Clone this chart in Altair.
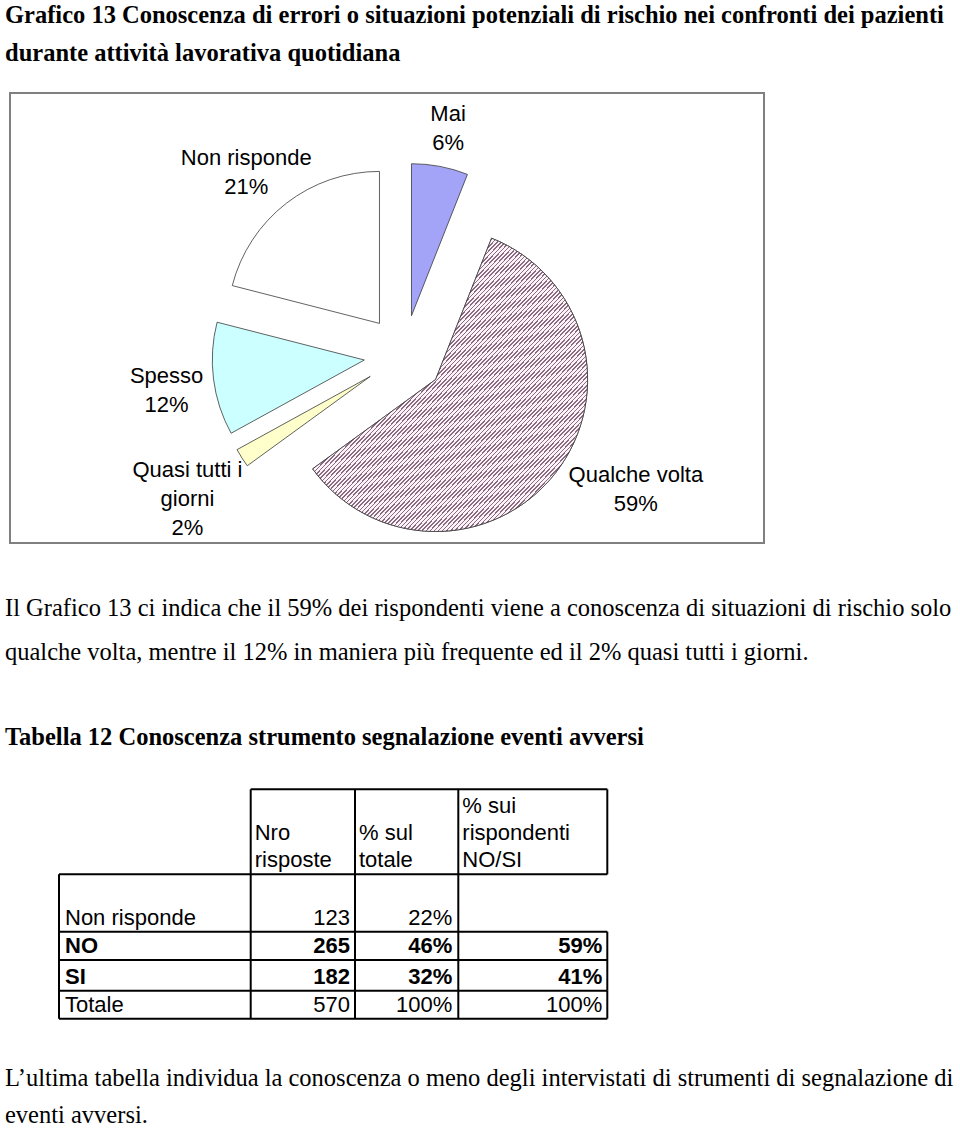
import altair as alt
import pandas as pd

# ---------------- data ----------------
categories = ["Mai", "Qualche volta", "Quasi tutti i giorni", "Spesso", "Non risponde"]
shares = [6, 59, 2, 12, 21]
label_lines = [["Mai", "6%"], ["Qualche volta", "59%"], ["Quasi tutti i", "giorni", "2%"],
               ["Spesso", "12%"], ["Non risponde", "21%"]]

row_names = ["Non risponde", "NO", "SI", "Totale"]
nro_risposte = [123, 265, 182, 570]
pct_totale = ["22%", "46%", "32%", "100%"]
pct_rispondenti = ["", "59%", "41%", "100%"]
bold_rows = [False, True, True, False]
header_lines = [["Nro", "risposte"], ["% sul", "totale"], ["% sui", "rispondenti", "NO/SI"]]

doc_lines = [
    ("Grafico 13 Conoscenza di errori o situazioni potenziali di rischio nei confronti dei pazienti", "bold"),
    ("durante attività lavorativa quotidiana", "bold"),
    ("Il Grafico 13 ci indica che il 59% dei rispondenti viene a conoscenza di situazioni di rischio solo", "normal"),
    ("qualche volta, mentre il 12% in maniera più frequente ed il 2% quasi tutti i giorni.", "normal"),
    ("Tabella 12 Conoscenza strumento segnalazione eventi avversi", "bold"),
    ("L’ultima tabella individua la conoscenza o meno degli intervistati di strumenti di segnalazione di", "normal"),
    ("eventi avversi.", "normal"),
]

# ---------------- layout / style ----------------
W, H = 960, 1130
SERIF = "Liberation Serif"
SANS = "Liberation Sans"
DOC_BASELINES = [23, 61, 616, 660, 745, 1086, 1123]
DOC_SIZE = 24.5

CX, CY, RADIUS, EXPLODE = 404, 355, 152, 40
LABEL_LAYOUT = {"Mai": (0.2, 231), "Qualche volta": (-7.7, 268), "Quasi tutti i giorni": (-1.2, 260),
                "Spesso": (-1.2, 240), "Non risponde": (-3.1, 241)}
LABEL_LH = 29
slice_colors = ["#A3A3F7", "#E2D2DC", "#FFFFCC", "#CCFFFF", "#FFFFFF"]

COL_X = [59, 250.7, 355, 458.3, 607.3]
ROW_Y = [789.3, 874.3, 931.7, 960, 990.7, 1018.7]
TAB_SIZE = 22

# hatch gradient for "Qualche volta"
N_STRIPES = 135
DARK, LIGHT = "#8A6C82", "#FCF2F8"
stops = []
for i in range(N_STRIPES):
    a = i / N_STRIPES
    b = (i + 0.38) / N_STRIPES
    c = (i + 1) / N_STRIPES
    stops += [alt.GradientStop(offset=a, color=DARK), alt.GradientStop(offset=b, color=DARK),
              alt.GradientStop(offset=b, color=LIGHT), alt.GradientStop(offset=c, color=LIGHT)]
hatch = alt.LinearGradient(gradient="linear", stops=stops, x1=0, y1=0, x2=1, y2=1)

PX = dict(scale=None, axis=None)

# ---------------- pie ----------------
pie_df = pd.DataFrame({
    "cat": categories,
    "share": shares,
    "order": list(range(len(categories))),
    "lines": label_lines,
    "k": [list(range(len(l))) for l in label_lines],
    "n": [len(l) for l in label_lines],
    "ldelta": [LABEL_LAYOUT[c][0] for c in categories],
    "lrad": [LABEL_LAYOUT[c][1] for c in categories],
})

pie_base = (
    alt.Chart(pie_df)
    .transform_window(cum="sum(share)", sort=[alt.SortField("order")], frame=[None, 0])
    .transform_calculate(t1="datum.cum / 100 * 2 * PI", t0="(datum.cum - datum.share) / 100 * 2 * PI")
    .transform_calculate(mid="(datum.t0 + datum.t1) / 2")
    .transform_calculate(cx=f"{CX} + {EXPLODE} * sin(datum.mid)", cy=f"{CY} - {EXPLODE} * cos(datum.mid)")
)

arc_enc = dict(
    theta=alt.Theta("t0:Q", scale=None, stack=None),
    theta2=alt.Theta2("t1:Q"),
    x=alt.X("cx:Q", **PX),
    y=alt.Y("cy:Q", **PX),
)

arcs = pie_base.mark_arc(radius=RADIUS, stroke="#3A3A3A", strokeWidth=0.8).encode(
    fill=alt.Fill("cat:N", scale=alt.Scale(domain=categories, range=slice_colors), legend=None),
    **arc_enc,
)
hatched = pie_base.transform_filter("datum.cat == 'Qualche volta'").mark_arc(
    radius=RADIUS, fill=hatch, stroke="#3A3A3A", strokeWidth=0.8
).encode(**arc_enc)

labels = (
    pie_base.transform_flatten(["lines", "k"])
    .transform_calculate(la="datum.mid + datum.ldelta * PI / 180")
    .transform_calculate(
        lx=f"{CX} + datum.lrad * sin(datum.la)",
        ly=f"{CY} - datum.lrad * cos(datum.la) + (datum.k - (datum.n - 1) / 2) * {LABEL_LH}",
    )
    .mark_text(font=SANS, fontSize=TAB_SIZE, align="center", baseline="middle", color="#000000")
    .encode(x=alt.X("lx:Q", **PX), y=alt.Y("ly:Q", **PX), text="lines:N")
)

one = pd.DataFrame({"a": [0]})
frame = alt.Chart(one).mark_rect(fill=None, stroke="#808080", strokeWidth=2).encode(
    x=alt.value(10), x2=alt.value(764), y=alt.value(93), y2=alt.value(543)
)

# ---------------- document text ----------------
doc_layers = []
for (txt, weight), yb in zip(doc_lines, DOC_BASELINES):
    doc_layers.append(
        alt.Chart(one).mark_text(font=SERIF, fontSize=DOC_SIZE, fontWeight=weight, align="left",
                                 baseline="alphabetic", color="#000000", text=txt)
        .encode(x=alt.value(5), y=alt.value(yb))
    )

# ---------------- table ----------------
segs = []
segs.append({"x1": COL_X[1], "x2": COL_X[-1], "y1": ROW_Y[0], "y2": ROW_Y[0]})
for y in ROW_Y[1:]:
    segs.append({"x1": COL_X[0], "x2": COL_X[-1], "y1": y, "y2": y})
segs.append({"x1": COL_X[0], "x2": COL_X[0], "y1": ROW_Y[1], "y2": ROW_Y[-1]})
for x in COL_X[1:-1]:
    segs.append({"x1": x, "x2": x, "y1": ROW_Y[0], "y2": ROW_Y[-1]})
segs.append({"x1": COL_X[-1], "x2": COL_X[-1], "y1": ROW_Y[0], "y2": ROW_Y[1]})
for i, v in enumerate(pct_rispondenti):
    if v != "":
        segs.append({"x1": COL_X[-1], "x2": COL_X[-1], "y1": ROW_Y[i + 1], "y2": ROW_Y[i + 2]})
grid = alt.Chart(pd.DataFrame(segs)).mark_rule(color="#000000", strokeWidth=2).encode(
    x=alt.X("x1:Q", **PX), x2="x2:Q", y=alt.Y("y1:Q", **PX), y2="y2:Q"
)

cells = []
for i, name in enumerate(row_names):
    yb = ROW_Y[i + 2] - 7
    w = "bold" if bold_rows[i] else "normal"
    cells.append({"t": name, "x": COL_X[0] + 6, "y": yb, "al": "left", "w": w})
    cells.append({"t": str(nro_risposte[i]), "x": COL_X[2] - 5, "y": yb, "al": "right", "w": w})
    cells.append({"t": pct_totale[i], "x": COL_X[3] - 6, "y": yb, "al": "right", "w": w})
    cells.append({"t": pct_rispondenti[i], "x": COL_X[4] - 5, "y": yb, "al": "right", "w": w})
for j, lines in enumerate(header_lines):
    n = len(lines)
    for k, t in enumerate(lines):
        cells.append({"t": t, "x": COL_X[j + 1] + 4, "y": ROW_Y[1] - 7 - (n - 1 - k) * 27, "al": "left", "w": "normal"})
cells_df = pd.DataFrame(cells)

table_layers = []
for w in ["normal", "bold"]:
    for al in ["left", "right"]:
        sub = cells_df[(cells_df.w == w) & (cells_df.al == al)]
        if len(sub) == 0:
            continue
        table_layers.append(
            alt.Chart(sub).mark_text(font=SANS, fontSize=TAB_SIZE, fontWeight=w, align=al,
                                     baseline="alphabetic", color="#000000")
            .encode(x=alt.X("x:Q", **PX), y=alt.Y("y:Q", **PX), text="t:N")
        )

chart = alt.layer(frame, arcs, hatched, labels, *doc_layers, grid, *table_layers).properties(
    width=W, height=H, autosize=alt.AutoSizeParams(type="none"), padding=0, background="white"
).configure_view(stroke=None)

chart.save("out.html", embed_options={"renderer": "svg", "actions": False})
